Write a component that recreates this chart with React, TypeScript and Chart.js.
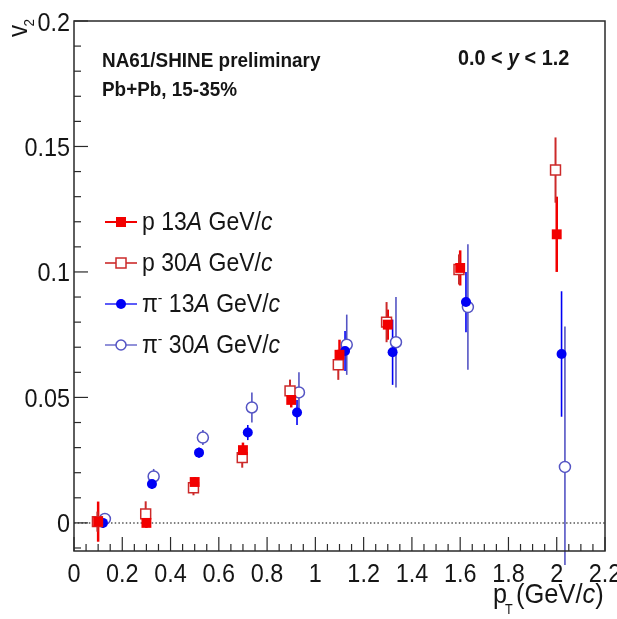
import React, { useEffect, useRef } from "react";
import { Chart, registerables } from "chart.js";
Chart.register(...registerables);

// ---- data ----
const p13X = [0.1, 0.3, 0.5, 0.7, 0.9, 1.1, 1.3, 1.6, 2.0];
const p13Y = [0.0005, 0.0, 0.0163, 0.029, 0.049, 0.067, 0.079, 0.1016, 0.115];
const p13E = [0.008, 0.002, 0.002, 0.003, 0.003, 0.006, 0.006, 0.007, 0.015];

const p30X = [0.097, 0.297, 0.495, 0.697, 0.895, 1.095, 1.295, 1.595, 1.995];
const p30Y = [0.0005, 0.0036, 0.014, 0.026, 0.0526, 0.063, 0.08, 0.101, 0.1406];
const p30E = [0.004, 0.005, 0.003, 0.004, 0.0045, 0.006, 0.008, 0.006, 0.013];

const pi13X = [0.12, 0.323, 0.518, 0.72, 0.924, 1.123, 1.32, 1.624, 2.02];
const pi13Y = [0.0, 0.0155, 0.028, 0.036, 0.044, 0.0685, 0.068, 0.088, 0.0673];
const pi13E = [0.002, 0.002, 0.002, 0.003, 0.005, 0.008, 0.013, 0.012, 0.025];

const pi30X = [0.128, 0.33, 0.534, 0.737, 0.932, 1.13, 1.334, 1.632, 2.034];
const pi30Y = [0.0016, 0.0185, 0.034, 0.046, 0.052, 0.071, 0.072, 0.086, 0.0223];
const pi30E = [0.002, 0.003, 0.003, 0.006, 0.008, 0.012, 0.018, 0.025, 0.056];

const xTickVals = [0, 0.2, 0.4, 0.6, 0.8, 1, 1.2, 1.4, 1.6, 1.8, 2, 2.2];
const xTickLabels = ["0", "0.2", "0.4", "0.6", "0.8", "1", "1.2", "1.4", "1.6", "1.8", "2", "2.2"];
const yTickVals = [0, 0.05, 0.1, 0.15, 0.2];
const yTickLabels = ["0", "0.05", "0.1", "0.15", "0.2"];

const RED = "#f20000";
const RED2 = "#cc2a2a";
const BLUE = "#0000f5";
const BLUE2 = "#5454c4";
const INK = "#151515";
const FAM = '"Liberation Sans", Arial, Helvetica, sans-serif';

type Seg = { t: string; i?: boolean; b?: boolean; sup?: boolean; sub?: boolean };

function segFont(s: Seg, size: number) {
  const fs = s.sup || s.sub ? Math.round(size * 0.6) : size;
  return `${s.i ? "italic " : ""}${s.b ? "bold " : ""}${fs}px ${FAM}`;
}

function richWidth(ctx: CanvasRenderingContext2D, segs: Seg[], size: number) {
  let w = 0;
  ctx.save();
  for (const s of segs) {
    ctx.font = segFont(s, size);
    w += ctx.measureText(s.t).width;
  }
  ctx.restore();
  return w;
}

function rich(
  ctx: CanvasRenderingContext2D,
  segs: Seg[],
  x: number,
  y: number,
  size: number,
  sx = 0.9,
  align: "left" | "center" | "right" = "left",
  color = INK
) {
  ctx.save();
  ctx.translate(x, y);
  ctx.scale(sx, 1);
  ctx.fillStyle = color;
  ctx.textBaseline = "alphabetic";
  ctx.textAlign = "left";
  const w = richWidth(ctx, segs, size);
  let cx = align === "left" ? 0 : align === "center" ? -w / 2 : -w;
  for (const s of segs) {
    ctx.font = segFont(s, size);
    const dy = s.sup ? -size * 0.38 : s.sub ? size * 0.28 : 0;
    ctx.fillText(s.t, cx, dy);
    cx += ctx.measureText(s.t).width;
  }
  ctx.restore();
}

const series = [
  { xs: p13X, ys: p13Y, es: p13E, color: RED, lw: 2.5, style: "rect", filled: true },
  { xs: p30X, ys: p30Y, es: p30E, color: RED2, lw: 2, style: "rect", filled: false },
  { xs: pi13X, ys: pi13Y, es: pi13E, color: BLUE, lw: 1.6, style: "circle", filled: true },
  { xs: pi30X, ys: pi30Y, es: pi30E, color: BLUE2, lw: 1.6, style: "circle", filled: false },
];

const legendEntries: { segs: Seg[]; s: number }[] = [
  { segs: [{ t: "p 13" }, { t: "A", i: true }, { t: " GeV/" }, { t: "c", i: true }], s: 0 },
  { segs: [{ t: "p 30" }, { t: "A", i: true }, { t: " GeV/" }, { t: "c", i: true }], s: 1 },
  { segs: [{ t: "π" }, { t: "-", sup: true }, { t: " 13" }, { t: "A", i: true }, { t: " GeV/" }, { t: "c", i: true }], s: 2 },
  { segs: [{ t: "π" }, { t: "-", sup: true }, { t: " 30" }, { t: "A", i: true }, { t: " GeV/" }, { t: "c", i: true }], s: 3 },
];

const rootPlugin = {
  id: "rootStyle",
  beforeDatasetsDraw(chart: any) {
    const { ctx, chartArea: a, scales } = chart;
    const x = scales.x, y = scales.y;
    ctx.save();
    ctx.strokeStyle = "#555";
    ctx.lineWidth = 1.5;
    ctx.setLineDash([1.5, 2.2]);
    ctx.beginPath();
    const y0 = y.getPixelForValue(0);
    ctx.moveTo(a.left, y0);
    ctx.lineTo(a.right, y0);
    ctx.stroke();
    ctx.restore();
    ctx.save();
    for (const s of series) {
      ctx.strokeStyle = s.color;
      ctx.lineWidth = s.lw;
      for (let i = 0; i < s.xs.length; i++) {
        const px = x.getPixelForValue(s.xs[i]);
        const top = y.getPixelForValue(s.ys[i] + s.es[i]);
        let bot = y.getPixelForValue(s.ys[i] - s.es[i]);
        bot = Math.min(bot, a.bottom + 14);
        ctx.beginPath();
        ctx.moveTo(px, top);
        ctx.lineTo(px, bot);
        ctx.stroke();
      }
    }
    ctx.restore();
  },
  afterDraw(chart: any) {
    const { ctx, chartArea: a, scales } = chart;
    const x = scales.x, y = scales.y;
    ctx.save();
    ctx.strokeStyle = "#2a2a2a";
    ctx.lineWidth = 1.5;
    ctx.strokeRect(a.left, a.top, a.right - a.left, a.bottom - a.top);
    ctx.lineWidth = 1.2;
    for (let k = 0; k <= 44; k++) {
      const px = x.getPixelForValue(k * 0.05);
      const len = k % 4 === 0 ? 14 : 7;
      ctx.beginPath();
      ctx.moveTo(px, a.bottom);
      ctx.lineTo(px, a.bottom - len);
      ctx.stroke();
    }
    for (let k = -1; k <= 20; k++) {
      const py = y.getPixelForValue(k * 0.01);
      if (py > a.bottom) continue;
      const len = k % 5 === 0 ? 14 : 7;
      ctx.beginPath();
      ctx.moveTo(a.left, py);
      ctx.lineTo(a.left + len, py);
      ctx.stroke();
    }
    ctx.restore();

    // tick labels
    xTickVals.forEach((v, i) => {
      rich(ctx, [{ t: xTickLabels[i] }], x.getPixelForValue(v), 582, 26, 0.9, "center");
    });
    yTickVals.forEach((v, i) => {
      rich(ctx, [{ t: yTickLabels[i] }], 70, y.getPixelForValue(v) + 9.5, 26, 0.9, "right");
    });

    // axis titles
    ctx.save();
    ctx.translate(27, 37);
    ctx.rotate(-Math.PI / 2);
    rich(ctx, [{ t: "v" }], 0, 0, 27, 0.9);
    rich(ctx, [{ t: "2" }], 10.5, 7, 15, 0.9);
    ctx.restore();

    rich(ctx, [{ t: "p" }], 493, 603, 28, 0.9);
    rich(ctx, [{ t: "T" }], 505, 614, 14, 0.9);
    rich(ctx, [{ t: "(GeV/" }, { t: "c", i: true }, { t: ")" }], 516, 603, 28, 0.91);

    // header texts
    rich(ctx, [{ t: "NA61/SHINE preliminary", b: true }], 102, 67, 21, 0.9);
    rich(ctx, [{ t: "Pb+Pb, 15-35%", b: true }], 102, 96, 21, 0.9);
    rich(ctx, [{ t: "0.0 < ", b: true }, { t: "y", b: true, i: true }, { t: " < 1.2", b: true }], 458, 65, 22, 0.9);

    // legend
    legendEntries.forEach((e, idx) => {
      const cy = 222 + idx * 41;
      const s = series[e.s];
      ctx.save();
      ctx.strokeStyle = s.color;
      ctx.lineWidth = s.lw * 0.8;
      ctx.beginPath();
      ctx.moveTo(105, cy);
      ctx.lineTo(137, cy);
      ctx.stroke();
      ctx.lineWidth = 1.5;
      if (s.style === "rect") {
        ctx.fillStyle = s.filled ? s.color : "#fff";
        ctx.fillRect(116, cy - 5, 10, 10);
        if (!s.filled) ctx.strokeRect(116, cy - 5, 10, 10);
      } else {
        ctx.beginPath();
        ctx.arc(121, cy, 5, 0, Math.PI * 2);
        ctx.fillStyle = s.filled ? s.color : "#fff";
        ctx.fill();
        if (!s.filled) ctx.stroke();
      }
      ctx.restore();
      rich(ctx, e.segs, 142, cy + 8, 25, 0.92);
    });
  },
};

export default function App() {
  const ref = useRef<HTMLCanvasElement>(null);
  useEffect(() => {
    if (!ref.current) return;
    const mk = (xs: number[], ys: number[]) => xs.map((v, i) => ({ x: v, y: ys[i] }));
    const chart = new Chart(ref.current, {
      type: "scatter",
      data: {
        datasets: [
          { data: mk(p13X, p13Y), pointStyle: "rect", pointRadius: 7, backgroundColor: RED, borderColor: RED, borderWidth: 0 },
          { data: mk(p30X, p30Y), pointStyle: "rect", pointRadius: 7, backgroundColor: "#ffffff", borderColor: RED2, borderWidth: 1.5 },
          { data: mk(pi13X, pi13Y), pointStyle: "circle", pointRadius: 5, backgroundColor: BLUE, borderColor: BLUE, borderWidth: 0 },
          { data: mk(pi30X, pi30Y), pointStyle: "circle", pointRadius: 5.5, backgroundColor: "#ffffff", borderColor: BLUE2, borderWidth: 1.5 },
        ],
      } as any,
      options: {
        animation: false,
        responsive: false,
        devicePixelRatio: 1,
        layout: { padding: { left: 74, top: 21, right: 12, bottom: 68 } },
        scales: {
          x: { type: "linear", min: 0, max: 2.2, display: false },
          y: { type: "linear", min: -0.0112, max: 0.2, display: false },
        },
        plugins: { legend: { display: false }, tooltip: { enabled: false } },
        events: [],
      } as any,
      plugins: [rootPlugin as any],
    });
    return () => chart.destroy();
  }, []);
  return (
    <div style={{ position: "fixed", left: 0, top: 0, width: 617, height: 619, background: "#fff" }}>
      <canvas ref={ref} width={617} height={619} style={{ width: 617, height: 619, display: "block" }} />
    </div>
  );
}
